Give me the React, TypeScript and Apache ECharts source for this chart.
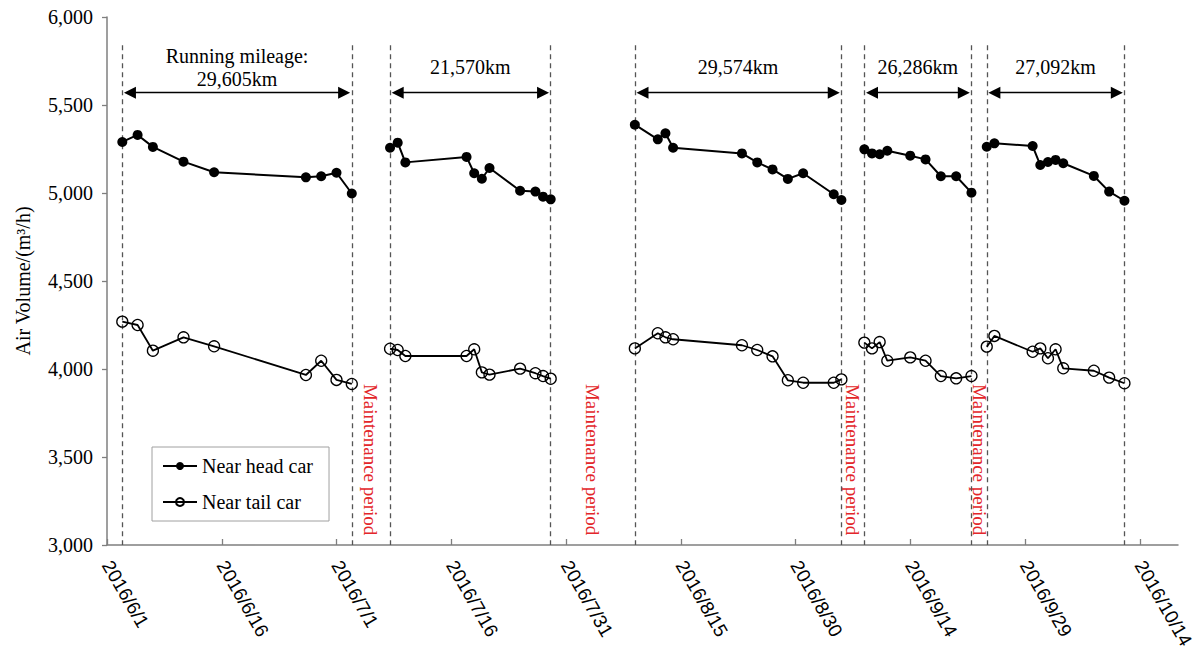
import React, { useEffect, useRef } from 'react';
import * as echarts from 'echarts';

// x-axis tick labels (every 15 days from 2016/6/1)
const tickLabels = ['2016/6/1', '2016/6/16', '2016/7/1', '2016/7/16', '2016/7/31', '2016/8/15', '2016/8/30', '2016/9/14', '2016/9/29', '2016/10/14'];

// measurement dates per running period
const period1Dates = ['2016/6/3', '2016/6/5', '2016/6/7', '2016/6/11', '2016/6/15', '2016/6/27', '2016/6/29', '2016/7/1', '2016/7/3'];
const period2Dates = ['2016/7/8', '2016/7/9', '2016/7/10', '2016/7/18', '2016/7/19', '2016/7/20', '2016/7/21', '2016/7/25', '2016/7/27', '2016/7/28', '2016/7/29'];
const period3Dates = ['2016/8/9', '2016/8/12', '2016/8/13', '2016/8/14', '2016/8/23', '2016/8/25', '2016/8/27', '2016/8/29', '2016/8/31', '2016/9/4', '2016/9/5'];
const period4Dates = ['2016/9/8', '2016/9/9', '2016/9/10', '2016/9/11', '2016/9/14', '2016/9/16', '2016/9/18', '2016/9/20', '2016/9/22'];
const period5Dates = ['2016/9/24', '2016/9/25', '2016/9/30', '2016/10/1', '2016/10/2', '2016/10/3', '2016/10/4', '2016/10/8', '2016/10/10', '2016/10/12'];

// Near head car air volume (m3/h)
const head1 = [5290, 5330, 5262, 5178, 5118, 5089, 5095, 5115, 4997];
const head2 = [5257, 5286, 5174, 5205, 5112, 5081, 5142, 5013, 5008, 4979, 4964];
const head3 = [5388, 5305, 5339, 5257, 5225, 5174, 5134, 5080, 5112, 4993, 4960];
const head4 = [5248, 5225, 5220, 5240, 5212, 5191, 5095, 5095, 5002];
const head5 = [5263, 5282, 5267, 5159, 5176, 5188, 5169, 5097, 5008, 4956];

// Near tail car air volume (m3/h)
const tail1 = [4269, 4250, 4104, 4180, 4129, 3966, 4047, 3938, 3915];
const tail2 = [4115, 4108, 4074, 4074, 4112, 3981, 3968, 4002, 3976, 3960, 3945];
const tail3 = [4117, 4203, 4180, 4169, 4135, 4108, 4072, 3936, 3922, 3922, 3941];
const tail4 = [4150, 4117, 4153, 4047, 4066, 4047, 3960, 3947, 3960];
const tail5 = [4127, 4188, 4098, 4117, 4061, 4112, 4004, 3990, 3951, 3919];

// running mileage of each period
const mileageLabels = ['Running mileage:\n29,605km', '21,570km', '29,574km', '26,286km', '27,092km'];
const maintenanceLabel = 'Maintenance period';

// annotation levels (y values)
const dashTop = 5840;
const arrowLevel = 5570;
const mileageLevel = 5715;
const maintenanceLevel = 3485;

const periods = [period1Dates, period2Dates, period3Dates, period4Dates, period5Dates];
const headVals = [head1, head2, head3, head4, head5];
const tailVals = [tail1, tail2, tail3, tail4, tail5];

function dayOf(s: string) {
  const [y, m, d] = s.split('/').map(Number);
  return (Date.UTC(y, m - 1, d) - Date.UTC(2016, 5, 1)) / 86400000;
}

function build(vals: number[][]) {
  const out: any[] = [];
  periods.forEach((dates, i) => {
    if (i > 0) out.push([dayOf(dates[0]) - 1, '-']);
    dates.forEach((d, j) => out.push([dayOf(d), vals[i][j]]));
  });
  return out;
}

const serif = '"Liberation Serif", "Times New Roman", serif';
const sans = '"Liberation Sans", Arial, sans-serif';

export default function App() {
  const ref = useRef<HTMLDivElement>(null);
  useEffect(() => {
    if (!ref.current) return;
    const chart = echarts.init(ref.current, undefined, { renderer: 'svg' });
    const bounds = periods.map((p) => [dayOf(p[0]), dayOf(p[p.length - 1])]);
    const boundaryDays: number[] = [];
    bounds.forEach((b) => boundaryDays.push(b[0], b[1]));
    const tickValues = tickLabels.map((_, i) => i * 15);
    const axisColor = '#7f7f7f';

    chart.setOption({
      animation: false,
      backgroundColor: '#fff',
      grid: { left: 107, right: 18, top: 17, bottom: 106, containLabel: false, outerBoundsMode: 'none' },
      legend: {
        left: 152,
        top: 447,
        orient: 'vertical',
        itemWidth: 34,
        itemHeight: 10,
        itemGap: 16,
        padding: [9, 16, 9, 10],
        borderColor: '#a0a0a0',
        borderWidth: 1,
        textStyle: { fontFamily: serif, fontSize: 20, color: '#000' },
        data: ['Near head car', 'Near tail car'],
      },
      xAxis: {
        type: 'value',
        min: 0,
        max: 140,
        interval: 15,
        splitLine: { show: false },
        axisLine: { show: true, onZero: false, lineStyle: { color: axisColor, width: 1.5 } },
        axisTick: { show: true, inside: true, length: 6, customValues: tickValues, lineStyle: { color: axisColor, width: 1.3 } },
        axisLabel: {
          customValues: tickValues,
          rotate: -60,
          margin: 17,
          fontFamily: sans,
          fontSize: 19,
          color: '#000',
          formatter: (v: number) => tickLabels[Math.round(v / 15)] ?? '',
        },
      },
      yAxis: {
        type: 'value',
        min: 3000,
        max: 6000,
        interval: 500,
        name: 'Air Volume/(m\u00b3/h)',
        nameLocation: 'middle',
        nameGap: 74,
        nameTextStyle: { fontFamily: serif, fontSize: 20, color: '#000' },
        splitLine: { show: false },
        axisLine: { show: true, lineStyle: { color: axisColor, width: 1.5 } },
        axisTick: { show: true, length: 5, lineStyle: { color: axisColor, width: 1.3 } },
        axisLabel: {
          margin: 14,
          fontFamily: serif,
          fontSize: 20,
          color: '#000',
          formatter: (v: number) => v.toLocaleString('en-US'),
        },
      },
      series: [
        {
          name: 'Near head car',
          type: 'line',
          data: build(headVals),
          symbol: 'circle',
          symbolSize: 10,
          connectNulls: false,
          lineStyle: { color: '#000', width: 2 },
          itemStyle: { color: '#000' },
          z: 5,
        },
        {
          name: 'Near tail car',
          type: 'line',
          data: build(tailVals),
          symbol: 'circle',
          symbolSize: 11,
          connectNulls: false,
          lineStyle: { color: '#000', width: 1.8 },
          itemStyle: { color: 'rgba(255,255,255,0)', borderColor: '#000', borderWidth: 1.3 },
          z: 5,
        },
        {
          name: 'bounds',
          type: 'line',
          data: [],
          silent: true,
          markLine: {
            silent: true,
            symbol: 'none',
            label: { show: false },
            lineStyle: { color: '#555', type: [5, 4], width: 1.3 },
            data: boundaryDays.map((d) => [{ coord: [d, dashTop] }, { coord: [d, 3000] }]),
          },
        },
        {
          name: 'arrows',
          type: 'line',
          data: [],
          silent: true,
          markLine: {
            silent: true,
            symbol: ['triangle', 'triangle'],
            symbolSize: 12,
            label: { show: false },
            lineStyle: { color: '#000', type: 'solid', width: 1.3 },
            itemStyle: { color: '#000' },
            data: bounds.map((b) => [{ coord: [b[0] + 1, arrowLevel] }, { coord: [b[1] - 1, arrowLevel] }]),
          },
        },
      ],
    });

    const px = (x: number, y: number) => chart.convertToPixel({ gridIndex: 0 }, [x, y]) as number[];
    const graphics: any[] = [];
    bounds.forEach((b, i) => {
      const p = px((b[0] + b[1]) / 2, mileageLevel);
      graphics.push({
        type: 'text',
        x: p[0],
        y: p[1],
        style: { text: mileageLabels[i], fontFamily: serif, fontSize: 20, fill: '#000', align: 'center', verticalAlign: 'middle', lineHeight: 23 },
      });
    });
    for (let i = 0; i < bounds.length - 1; i++) {
      const p = px((bounds[i][1] + bounds[i + 1][0]) / 2, maintenanceLevel);
      graphics.push({
        type: 'text',
        x: p[0],
        y: p[1],
        rotation: -Math.PI / 2,
        style: { text: maintenanceLabel, fontFamily: serif, fontSize: 19, fill: '#e3262a', align: 'center', verticalAlign: 'middle' },
      });
    }
    chart.setOption({ graphic: graphics });

    return () => chart.dispose();
  }, []);
  return <div ref={ref} style={{ position: 'absolute', left: 0, top: 0, width: 1196, height: 651 }} />;
}
